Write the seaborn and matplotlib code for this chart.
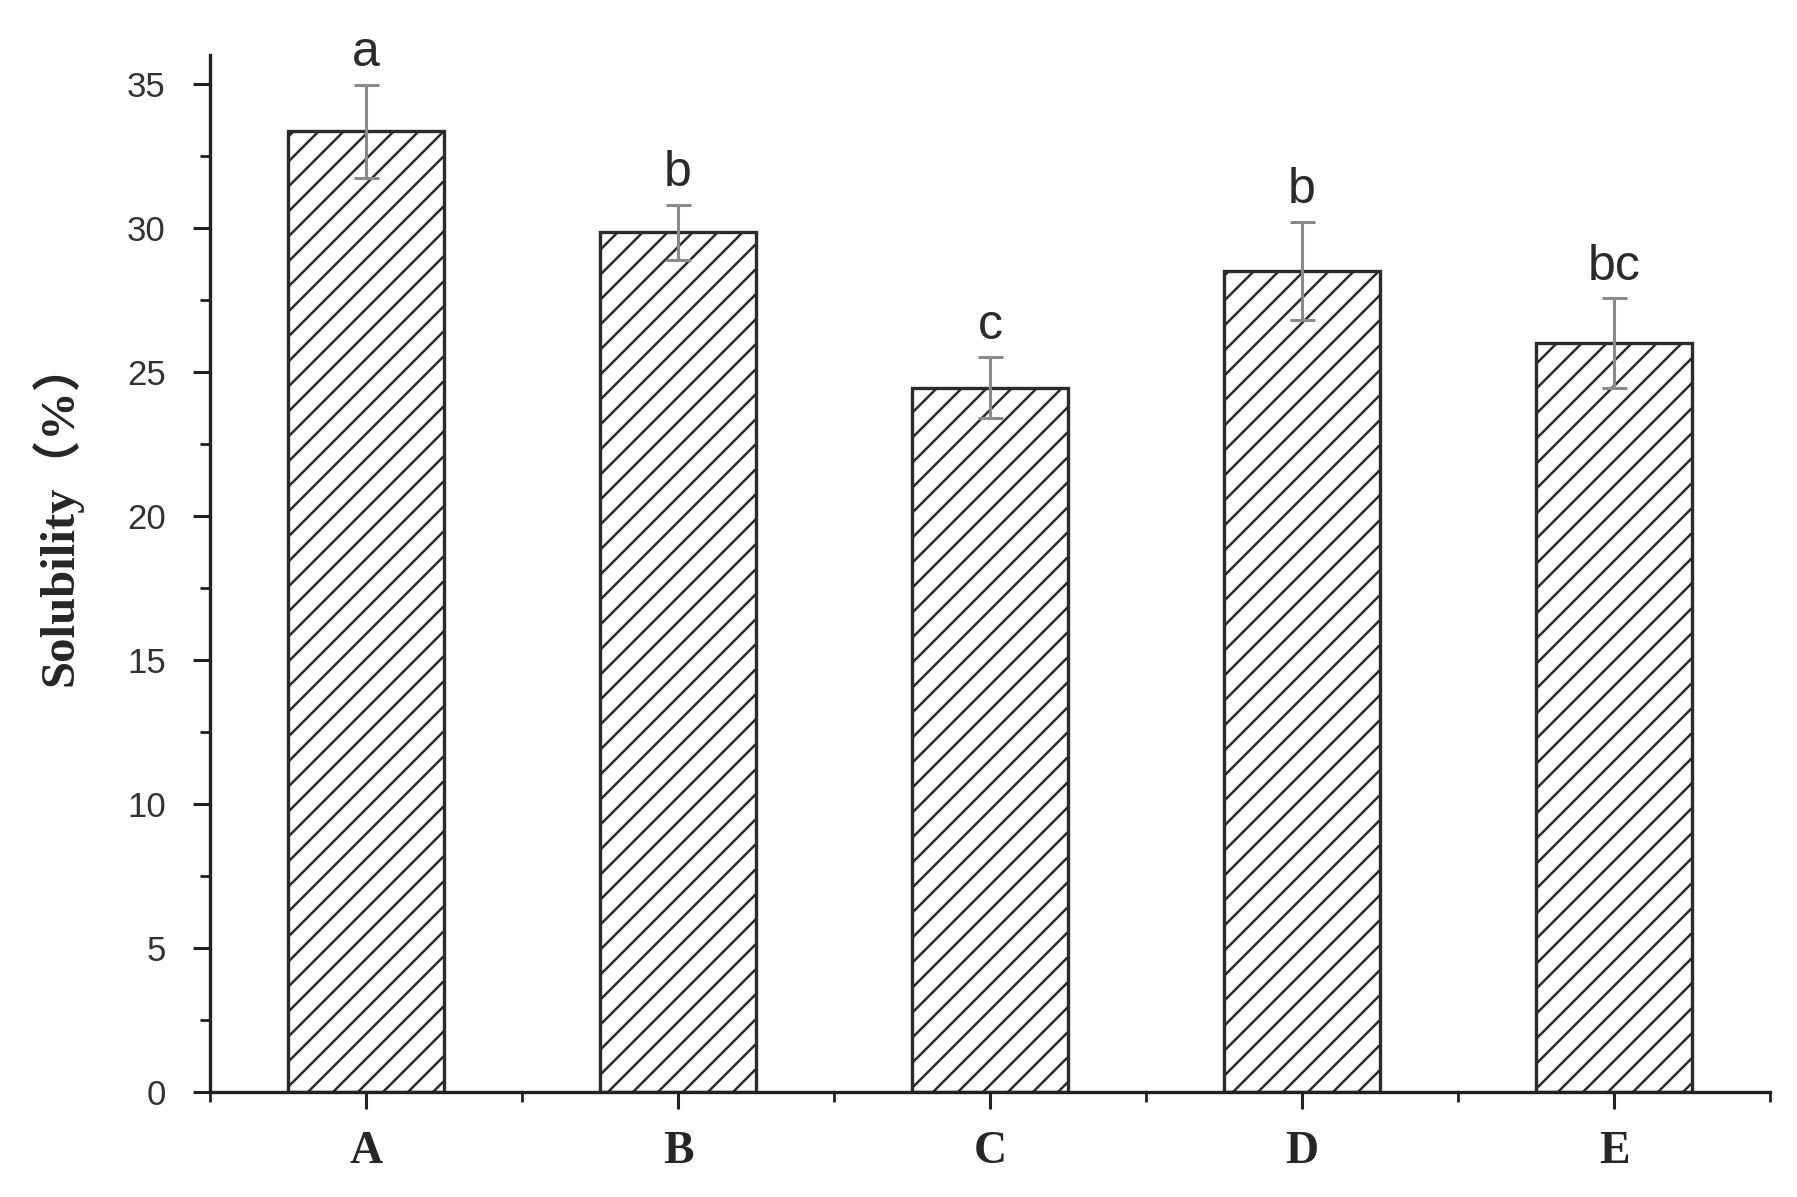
import matplotlib
matplotlib.use("Agg")
import matplotlib.pyplot as plt
import seaborn as sns
import numpy as np
from matplotlib.ticker import MultipleLocator, FixedLocator

categories = ["A", "B", "C", "D", "E"]
solubility = [33.35, 29.85, 24.45, 28.5, 26.0]
errors = [1.62, 0.95, 1.05, 1.7, 1.55]
letters = ["a", "b", "c", "b", "bc"]

DPI = 75
S = 100 / DPI  # keep sizes as if at 100 dpi

sns.set_theme(style="ticks")
plt.rcParams["hatch.linewidth"] = 1.8 * S

fig = plt.figure(figsize=(1797 / DPI, 1197 / DPI), dpi=DPI)
ax = fig.add_axes([0.117, 0.088, 0.868, 0.866])

sns.barplot(x=categories, y=solubility, color="white", edgecolor="#2b2b2b",
            linewidth=2.4 * S, width=0.5, ax=ax, errorbar=None)
for p in ax.patches:
    p.set_hatch("/")
    p.set_facecolor("white")

xpos = np.arange(len(categories))
ax.errorbar(xpos, solubility, yerr=errors, fmt="none", ecolor="#8a8a8a",
            elinewidth=2.2 * S, capsize=9 * S, capthick=2.2 * S, zorder=5)

for x, v, e, t in zip(xpos, solubility, errors, letters):
    ax.text(x, v + e + 0.3, t, ha="center", va="bottom", fontsize=36 * S,
            color="#2b2b2b", family=["Liberation Sans", "DejaVu Sans"])

ax.set_xlim(-0.5, 4.5)
ax.set_ylim(0, 36)
ax.yaxis.set_major_locator(MultipleLocator(5))
ax.yaxis.set_minor_locator(MultipleLocator(2.5))
ax.xaxis.set_minor_locator(FixedLocator([-0.5, 0.5, 1.5, 2.5, 3.5, 4.5]))

for s in ["top", "right"]:
    ax.spines[s].set_visible(False)
for s in ["left", "bottom"]:
    ax.spines[s].set_linewidth(2.4 * S)
    ax.spines[s].set_color("#222222")

ax.tick_params(axis="both", which="major", direction="out", length=12 * S,
               width=2.2 * S, color="#222222")
ax.tick_params(axis="both", which="minor", direction="out", length=7 * S,
               width=2.0 * S, color="#222222")
ax.tick_params(axis="y", labelsize=25 * S, labelcolor="#333333", pad=20 * S)
ax.tick_params(axis="x", labelsize=33 * S, pad=16 * S)

for lab in ax.get_yticklabels():
    lab.set_family(["Liberation Sans", "DejaVu Sans"])
for lab in ax.get_xticklabels():
    lab.set_family(["Liberation Serif", "DejaVu Serif"])
    lab.set_fontweight("bold")

ax.set_xlabel("")
ax.set_ylabel("Solubility（%）", fontsize=35 * S, fontweight="bold",
              family=["Liberation Serif", "Noto Sans CJK SC"])
ax.yaxis.set_label_coords(-0.082, 0.558)

fig.savefig("out.png", dpi=DPI)
